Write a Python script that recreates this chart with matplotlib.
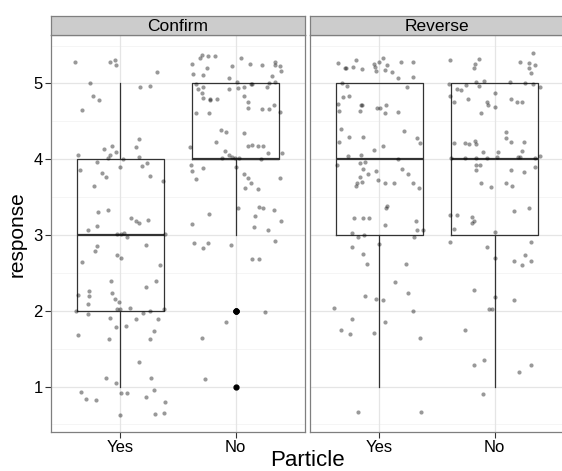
import matplotlib
matplotlib.use("Agg")
import matplotlib.pyplot as plt
import numpy as np

plt.rcParams['font.family'] = ['Liberation Sans', 'DejaVu Sans']

facets = ["Confirm", "Reverse"]
particles = ["Yes", "No"]

# jittered points: x in category units (Yes=1, No=2), y = response + jitter
confirm_yes_x = [0.61, 0.91, 0.95, 0.96, 1.32, 0.74, 0.76, 0.82, 0.67, 1.17, 1.26,
                 1.16, 1.14, 0.86, 0.93, 0.96, 0.91, 0.89, 0.63, 1.02, 1.16, 0.80, 0.65, 0.84,
                 0.88, 1.00, 1.19, 1.23, 1.26, 1.37, 0.77,
                 0.81, 0.89, 1.09, 1.14, 1.16, 1.24, 0.72, 0.80, 0.97, 1.01, 1.03, 1.06, 1.39,
                 0.80, 0.78, 1.22, 0.67, 0.97, 1.01, 1.34,
                 0.92, 1.31, 1.22, 0.93, 0.95, 0.99, 0.73, 0.73, 0.63, 0.72, 0.62, 0.97, 1.00,
                 1.08, 0.72, 1.20, 1.26, 1.38, 0.91, 1.14, 1.33, 0.96, 1.05, 1.29, 0.63, 0.90, 1.26,
                 1.16, 0.88, 0.96, 1.27, 0.66, 0.70, 0.79, 1.01, 1.06, 1.22, 1.29, 1.39, 1.00, 1.30, 1.38]
confirm_yes_y = [5.29, 5.28, 5.31, 5.25, 5.15, 5.00, 4.83, 4.78, 4.65, 4.96, 4.97,
                 4.27, 4.16, 4.13, 4.17, 4.10, 4.06, 4.02, 4.05, 4.00, 4.03, 3.96, 3.86, 3.82,
                 3.76, 3.90, 3.91, 3.95, 3.78, 3.71, 3.65,
                 3.30, 3.33, 3.22, 3.18, 3.16, 3.20, 3.07, 3.12, 3.01, 3.01, 3.03, 2.97, 3.01,
                 2.85, 2.79, 2.87, 2.64, 2.73, 2.70, 2.61,
                 2.39, 2.39, 2.31, 2.23, 2.16, 2.12, 2.26, 2.20, 2.21, 2.09, 2.00, 2.02, 2.02,
                 2.04, 1.96, 1.97, 2.00, 2.03, 1.91, 1.89, 1.89, 1.78, 1.80, 1.73, 1.68, 1.63, 1.63,
                 1.32, 1.11, 1.05, 1.11, 0.93, 0.84, 0.82, 0.92, 0.91, 0.86, 0.95, 0.79, 0.63, 0.64, 0.65]

confirm_no_x = [1.71, 1.76, 1.82, 1.69, 1.62, 1.75, 1.63, 1.72, 2.05, 2.12, 1.97, 2.23,
                2.34, 2.34, 2.38, 2.39, 2.31, 1.94, 2.01, 1.94, 2.02, 2.07, 2.13, 2.07, 2.11,
                2.11, 2.14, 2.27, 2.29, 2.34, 1.66, 1.72, 1.67, 1.71, 1.72, 1.78, 1.84, 1.78,
                1.66, 1.77, 2.23, 2.29, 2.33, 2.38,
                1.87, 1.92, 2.07, 1.83, 1.91, 2.11, 2.14, 2.19, 2.24, 1.60, 1.94, 1.97, 2.03,
                1.88, 2.28, 2.40, 2.22, 1.99, 1.61, 1.62, 1.72, 1.66, 2.00, 2.07, 2.11, 2.13,
                2.08, 2.19, 2.38,
                2.02, 2.20, 2.24, 2.33, 2.17, 2.39, 1.62, 1.77, 2.16, 2.28, 1.64, 1.72, 1.76,
                1.96, 2.14, 2.20, 2.34,
                2.25, 1.92, 1.71, 1.73]
confirm_no_y = [5.37, 5.36, 5.36, 5.33, 5.26, 5.21, 5.12, 5.11, 5.34, 5.26, 5.23, 5.24,
                5.29, 5.24, 5.23, 5.16, 5.10, 5.07, 5.02, 4.93, 4.94, 4.95, 4.99, 4.84, 4.76,
                4.68, 4.99, 4.95, 5.00, 5.02, 4.99, 4.96, 4.93, 4.88, 4.81, 4.79, 4.79, 4.78,
                4.61, 4.61, 4.66, 4.66, 4.71, 4.62,
                4.38, 4.36, 4.35, 4.23, 4.11, 4.18, 4.19, 4.18, 4.18, 4.16, 4.05, 4.03, 4.02,
                4.02, 4.08, 4.08, 4.00, 4.02, 3.93, 3.85, 3.89, 3.74, 3.90, 3.80, 3.75, 3.69,
                3.62, 3.61, 3.75,
                3.35, 3.37, 3.36, 3.33, 3.25, 3.18, 3.14, 3.28, 3.11, 3.07, 2.89, 2.83, 2.90,
                2.87, 2.68, 2.68, 2.92,
                1.98, 1.85, 1.64, 1.10]

reverse_yes_x = [0.64, 0.70, 0.71, 0.77, 0.80, 0.85, 0.95, 0.96, 1.00, 1.03, 1.07, 0.97,
                 1.05, 1.11, 1.16, 1.19, 1.29, 1.29, 1.24, 0.68, 0.72, 0.69, 0.74, 0.64, 0.65,
                 0.84, 0.85, 0.83, 0.98, 1.01, 1.06, 1.05, 1.16,
                 0.67, 0.65, 0.74, 0.86, 0.95, 1.03, 1.21, 1.33, 1.35, 0.73, 0.84, 0.63, 0.83,
                 0.88, 0.86, 0.97, 0.90, 0.83, 0.85, 0.81, 0.80, 0.99, 1.05, 1.13, 1.16, 1.20,
                 1.25, 1.29, 1.34,
                 1.07, 1.06, 0.78, 0.86, 0.91, 1.05, 1.32, 1.33, 1.38, 0.76, 0.82, 0.87, 1.30,
                 1.00, 0.76, 0.86, 0.89, 1.23,
                 1.14, 0.88, 0.97, 1.03, 1.25, 0.61, 1.29, 0.76, 1.05, 0.67, 0.75, 0.95, 1.35,
                 0.82, 1.36]
reverse_yes_y = [5.27, 5.20, 5.21, 5.22, 5.31, 5.19, 5.26, 5.22, 5.28, 5.33, 5.24, 5.16,
                 5.18, 5.15, 5.07, 5.29, 5.28, 5.08, 4.96, 5.01, 4.97, 4.82, 4.83, 4.73, 4.64,
                 4.72, 4.71, 4.64, 4.67, 4.68, 4.71, 4.61, 4.63,
                 4.40, 4.23, 4.29, 4.30, 4.12, 4.18, 4.37, 4.28, 4.21, 4.04, 4.05, 3.93, 3.95,
                 3.97, 3.87, 3.85, 3.80, 3.77, 3.70, 3.69, 3.65, 3.72, 3.68, 3.69, 4.00, 3.87,
                 3.80, 3.68, 3.62,
                 3.38, 3.36, 3.23, 3.23, 3.23, 3.13, 3.18, 3.07, 3.06, 3.03, 2.98, 3.00, 2.98,
                 2.88, 2.84, 2.75, 2.62, 2.62,
                 2.38, 2.20, 2.15, 2.14, 2.23, 2.04, 2.00, 1.89, 1.85, 1.74, 1.70, 1.71, 1.64,
                 0.67, 0.66]

reverse_no_x = [1.61, 1.86, 1.83, 1.82, 2.22, 2.30, 2.35, 2.33, 2.30, 2.31, 1.60, 1.67,
                1.71, 1.75, 1.84, 1.86, 1.91, 2.00, 2.13, 2.26, 2.33, 2.39, 1.61, 1.65, 1.77,
                1.93, 1.94, 2.00, 1.88, 2.14, 2.19, 2.24,
                1.65, 1.74, 1.78, 1.83, 1.84, 2.10, 2.10, 2.14, 2.25, 1.90, 2.03, 2.02, 2.24,
                2.20, 1.62, 1.74, 1.84, 1.93, 2.22, 2.35, 2.39, 1.84, 1.87, 1.84, 2.14, 2.25,
                2.35, 1.88, 1.97, 2.10, 2.15,
                2.17, 2.30, 1.61, 1.67, 1.80, 1.80, 1.82, 1.65, 2.00, 1.61, 1.93, 2.00, 2.17,
                2.24, 2.26, 2.31, 2.31,
                1.82, 2.00, 2.17, 1.95, 1.98, 1.74,
                1.82, 1.91, 2.21, 2.31, 1.90]
reverse_no_y = [5.31, 5.32, 5.26, 5.21, 5.29, 5.27, 5.24, 5.40, 5.20, 5.14, 4.99, 4.93,
                4.91, 4.98, 5.02, 4.97, 5.03, 4.87, 5.02, 5.00, 4.99, 4.95, 4.84, 4.75, 4.79,
                4.75, 4.71, 4.69, 4.61, 4.79, 4.75, 4.76,
                4.22, 4.22, 4.20, 4.24, 4.20, 4.36, 4.28, 4.23, 4.23, 4.09, 4.09, 4.03, 4.11,
                4.03, 4.01, 4.02, 4.01, 4.01, 4.03, 4.01, 4.04, 3.92, 3.92, 3.86, 3.86, 3.83,
                3.90, 3.68, 3.63, 3.69, 3.65,
                3.32, 3.36, 3.27, 3.27, 3.24, 3.16, 3.18, 3.08, 3.04, 2.91, 2.84, 2.70, 2.66,
                2.60, 2.74, 2.66, 2.91,
                2.28, 2.18, 2.14, 2.03, 2.03, 1.75,
                1.29, 1.35, 1.19, 1.29, 0.90]

points = {
    "Confirm": [(confirm_yes_x, confirm_yes_y), (confirm_no_x, confirm_no_y)],
    "Reverse": [(reverse_yes_x, reverse_yes_y), (reverse_no_x, reverse_no_y)],
}

W, H = 562, 471
fig = plt.figure(figsize=(W / 100, H / 100), dpi=100)

panel_left = [51, 310]
panel_w = 254
panel_top, panel_bottom = 35, 432
strip_top = 16

border = '#7f7f7f'
for i, facet in enumerate(facets):
    x0 = panel_left[i] / W
    ax = fig.add_axes([x0, (H - panel_bottom) / H, panel_w / W, (panel_bottom - panel_top) / H])
    st = fig.add_axes([x0, (H - panel_top) / H, panel_w / W, (panel_top - strip_top) / H])

    # grid
    for v in np.arange(0.5, 6.0, 0.5):
        lw, c = (0.9, '#e5e5e5') if v == int(v) else (0.6, '#f4f4f4')
        ax.axhline(v, color=c, lw=lw, zorder=0)
    for v in [1, 2]:
        ax.axvline(v, color='#e5e5e5', lw=0.9, zorder=0)

    # boxplots computed from the underlying integer responses
    groups = points[facet]
    resp = [np.round(np.array(gy)) for gx, gy in groups]
    ax.boxplot(resp, positions=[1, 2], widths=0.75, whis=1.5,
               boxprops=dict(color='#333333', lw=0.9),
               whiskerprops=dict(color='#333333', lw=0.9),
               capprops=dict(lw=0),
               medianprops=dict(color='#333333', lw=1.6),
               flierprops=dict(marker='o', markerfacecolor='black', markeredgecolor='black',
                               markersize=3.5),
               manage_ticks=False, zorder=2)

    for gx, gy in groups:
        ax.scatter(gx, gy, s=9, color='black', alpha=0.4, linewidths=0, zorder=3)

    ax.set_xlim(0.4, 2.6)
    ax.set_ylim(0.40, 5.64)
    ax.set_xticks([1, 2])
    ax.set_xticklabels(particles, fontsize=12)
    ax.set_yticks([1, 2, 3, 4, 5])
    if i == 0:
        ax.set_yticklabels(['1', '2', '3', '4', '5'], fontsize=12)
    else:
        ax.tick_params(axis='y', left=False, labelleft=False)
    ax.tick_params(length=4, width=0.8, color='#333333', pad=2)
    ax.tick_params(axis='x', pad=1.5)
    for sp in ax.spines.values():
        sp.set_color(border)
        sp.set_linewidth(0.9)

    st.set_facecolor('#cccccc')
    st.set_xticks([])
    st.set_yticks([])
    for sp in st.spines.values():
        sp.set_color(border)
        sp.set_linewidth(0.9)
    st.text(0.5, 0.45, facet, ha='center', va='center', fontsize=12.5, transform=st.transAxes)

fig.text(307 / W, 1 - 461 / H, 'Particle', ha='center', va='center', fontsize=16)
fig.text(17 / W, 1 - 234 / H, 'response', ha='center', va='center', rotation=90, fontsize=15)

fig.savefig('out.png', dpi=100)
